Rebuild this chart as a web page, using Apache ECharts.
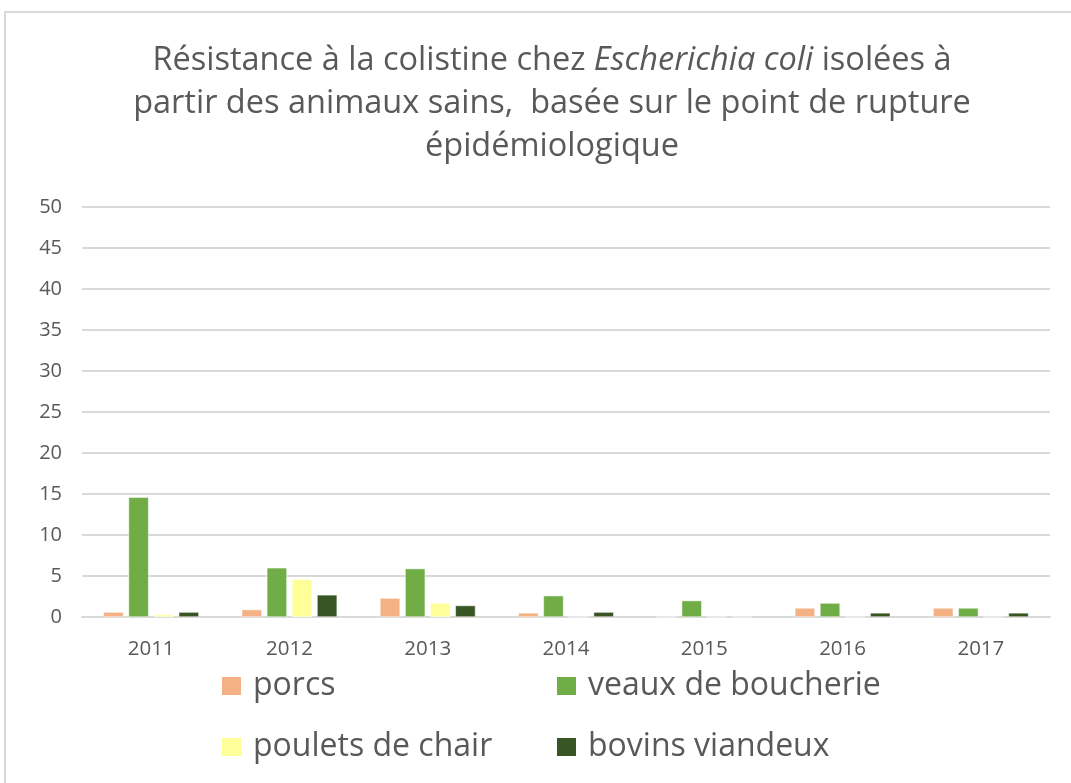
<!DOCTYPE html>
<html lang="fr">
<head>
    <meta charset="UTF-8">
    <title>Colistine</title>
    <script type="text/javascript" src="https://cdn.jsdelivr.net/npm/echarts@6/dist/echarts.min.js"></script>
    <style>
        html, body { margin: 0; padding: 0; background: #fff; }
        #main { width: 1071px; height: 783px; }
    </style>
</head>
<body>
    <div id="main"></div>
    <script type="text/javascript">
        // données (%)
        var annees = ['2011', '2012', '2013', '2014', '2015', '2016', '2017'];
        var porcs = [0.6, 0.9, 2.3, 0.5, 0, 1.1, 1.1];
        var veaux = [14.6, 6.0, 5.9, 2.6, 2.0, 1.7, 1.1];
        var poulets = [0.3, 4.6, 1.7, 0, 0, 0, 0];
        var bovins = [0.6, 2.7, 1.4, 0.6, 0, 0.5, 0.5];
        var noms = ['porcs', 'veaux de boucherie', 'poulets de chair', 'bovins viandeux'];

        var police = "'Open Sans', sans-serif";
        var gris = '#595959';

        var myChart = echarts.init(document.getElementById('main'));

        function serie(nom, data, couleur) {
            return {
                name: nom,
                type: 'bar',
                data: data,
                barGap: '25%',
                barCategoryGap: '31%',
                itemStyle: {color: couleur, borderColor: '#ffffff', borderWidth: 0.5}
            };
        }

        var legendeTexte = {color: gris, fontSize: 32, fontFamily: police, width: 292, lineHeight: 40, padding: [0, 0, 0, 6]};

        var option = {
            animation: false,
            graphic: [{
                type: 'rect',
                z: -10,
                shape: {x: 5, y: 12, width: 1100, height: 800},
                style: {fill: '#ffffff', stroke: '#d9d9d9', lineWidth: 2}
            }],
            title: {
                text: 'Résistance à la colistine chez {i|Escherichia coli} isolées à\npartir des animaux sains,  basée sur le point de rupture\népidémiologique',
                left: 547,
                top: 34,
                textAlign: 'center',
                textStyle: {
                    color: gris,
                    fontSize: 32.5,
                    fontWeight: 'normal',
                    fontFamily: police,
                    lineHeight: 43,
                    rich: {
                        i: {color: gris, fontSize: 32.5, fontStyle: 'italic', fontFamily: police, lineHeight: 43}
                    }
                }
            },
            legend: [{
                data: noms.slice(0, 2),
                left: 220,
                top: 666,
                padding: 0,
                itemWidth: 21,
                itemHeight: 20,
                itemGap: 10,
                icon: 'rect',
                textStyle: legendeTexte
            }, {
                data: noms.slice(2, 4),
                left: 220,
                top: 727,
                padding: 0,
                itemWidth: 21,
                itemHeight: 20,
                itemGap: 10,
                icon: 'rect',
                textStyle: legendeTexte
            }],
            grid: {left: 82, right: 21, top: 207, bottom: 166},
            xAxis: {
                type: 'category',
                data: annees,
                axisLine: {lineStyle: {color: '#d9d9d9', width: 2}},
                axisTick: {show: false},
                axisLabel: {color: gris, fontSize: 20.5, fontFamily: police, margin: 22}
            },
            yAxis: {
                type: 'value',
                min: 0,
                max: 50,
                interval: 5,
                axisLine: {show: false},
                axisTick: {show: false},
                axisLabel: {color: gris, fontSize: 20, fontFamily: police, margin: 20},
                splitLine: {lineStyle: {color: '#d9d9d9', width: 2}}
            },
            series: [
                serie(noms[0], porcs, '#f4b183'),
                serie(noms[1], veaux, '#70ad47'),
                serie(noms[2], poulets, '#ffff99'),
                serie(noms[3], bovins, '#375623')
            ]
        };
        myChart.setOption(option);
    </script>
</body>
</html>
